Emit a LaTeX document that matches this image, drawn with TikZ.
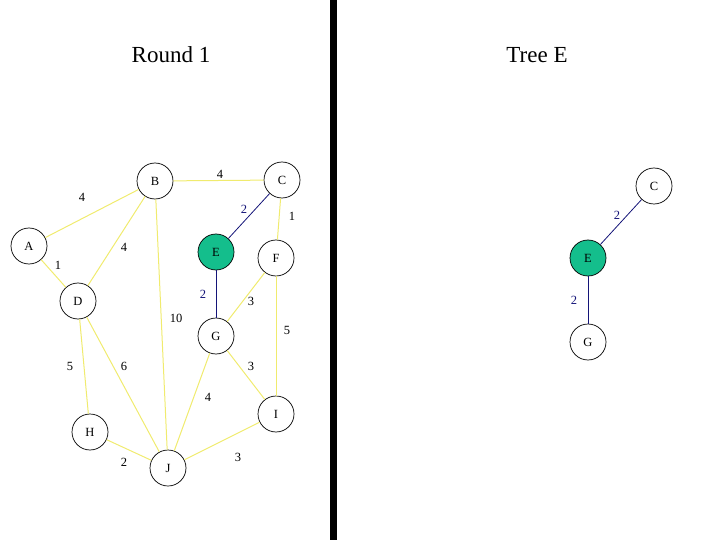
\documentclass[tikz,border=0pt]{standalone}
\usepackage{fontspec}
\setmainfont{Liberation Serif}
\usepackage{tikz}
\definecolor{edgeyellow}{RGB}{240,235,110}
\definecolor{treeblue}{RGB}{20,20,120}
\definecolor{visited}{RGB}{20,190,140}

\begin{document}
\begin{tikzpicture}[
    x=1pt, y=-1pt,
    vertex/.style={circle, draw=black, fill=white, line width=0.7pt, minimum size=36pt, inner sep=0pt, font=\fontsize{12.5}{12.5}\selectfont},
    current/.style={vertex, fill=visited},
    edge/.style={draw=edgeyellow, line width=1pt},
    treeedge/.style={draw=treeblue, line width=0.8pt},
    wt/.style={font=\fontsize{12.5}{12.5}\selectfont},
    twt/.style={wt, text=treeblue},
    title/.style={font=\fontsize{23}{23}\selectfont}
]
\useasboundingbox (0,0) rectangle (720,540);

% Titles and divider
\node[title] (round) at (171,55) {Round 1};
\node[title] (tree) at (537,55) {Tree E};
\fill[black] (330,0) rectangle (337,540);

% Graph vertices
\node[vertex] (A) at (29,246) {A};
\node[vertex] (B) at (155,181) {B};
\node[vertex] (C) at (282,180) {C};
\node[vertex] (D) at (78,301) {D};
\node[current] (E) at (216,252) {E};
\node[vertex] (F) at (276,258) {F};
\node[vertex] (G) at (216,336) {G};
\node[vertex] (H) at (90,432) {H};
\node[vertex] (I) at (276,414) {I};
\node[vertex] (J) at (168,468) {J};

% Graph edges
\draw[edge] (A) -- (B);
\draw[edge] (B) -- (C);
\draw[edge] (A) -- (D);
\draw[edge] (B) -- (D);
\draw[edge] (B) -- (J);
\draw[edge] (C) -- (F);
\draw[edge] (F) -- (G);
\draw[edge] (F) -- (I);
\draw[edge] (D) -- (H);
\draw[edge] (D) -- (J);
\draw[edge] (G) -- (I);
\draw[edge] (G) -- (J);
\draw[edge] (H) -- (J);
\draw[edge] (J) -- (I);
\draw[treeedge] (C) -- (E);
\draw[treeedge] (E) -- (G);

% Weights
\node[wt] (wAB) at (82,197) {4};
\node[wt] (wBC) at (220,174) {4};
\node[twt] (wCE) at (244,209) {2};
\node[wt] (wCF) at (292,216) {1};
\node[wt] (wBD) at (124,247) {4};
\node[wt] (wAD) at (58,265) {1};
\node[twt] (wEG) at (203,294) {2};
\node[wt] (wFG) at (251,301) {3};
\node[wt] (wBJ) at (176,318) {10};
\node[wt] (wFI) at (287,330) {5};
\node[wt] (wDH) at (70,366) {5};
\node[wt] (wDJ) at (124,366) {6};
\node[wt] (wGI) at (251,366) {3};
\node[wt] (wGJ) at (208,397) {4};
\node[wt] (wHJ) at (124,462) {2};
\node[wt] (wJI) at (238,457) {3};

% Tree E
\node[vertex] (tC) at (654,186) {C};
\node[current] (tE) at (588,258) {E};
\node[vertex] (tG) at (588,342) {G};
\draw[treeedge] (tC) -- (tE);
\draw[treeedge] (tE) -- (tG);
\node[twt] (twCE) at (617,215) {2};
\node[twt] (twEG) at (574,300) {2};

\end{tikzpicture}
\end{document}
